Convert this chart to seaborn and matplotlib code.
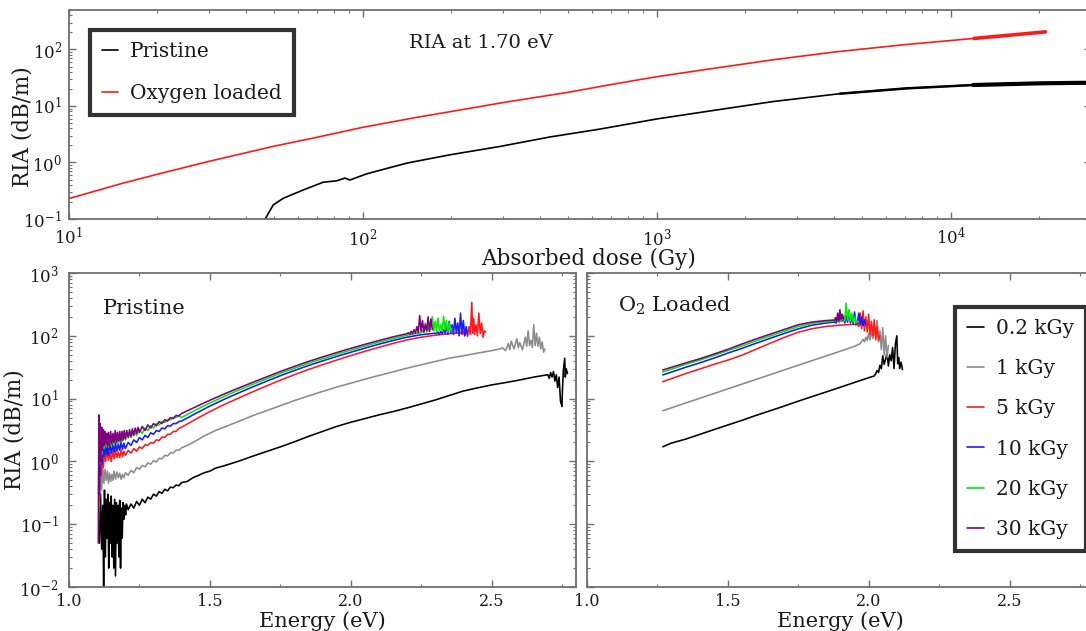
import matplotlib
matplotlib.use("Agg")
import numpy as np
import pandas as pd
import matplotlib.pyplot as plt
from matplotlib.lines import Line2D
from matplotlib.ticker import LogLocator, MultipleLocator, FormatStrFormatter, NullFormatter
import seaborn as sns

# ---------------------------------------------------------------- top panel
# RIA at 1.70 eV versus absorbed dose
dose_pristine = [45, 46.5, 49.5, 53.6, 62.7, 73.3, 81.3, 86.9, 90.3, 103, 141, 198,
                 292, 433, 640, 1000, 1476, 2489, 4190, 7060, 11900, 20100, 29500]
ria_pristine = [0.085, 0.1, 0.177, 0.233, 0.327, 0.448, 0.473, 0.53, 0.49, 0.63, 0.975, 1.37,
                1.92, 2.83, 3.9, 5.9, 8.0, 12.0, 16.5, 20.5, 23.5, 25.2, 25.8]
dose_oxygen = [10, 15, 20, 30, 50, 70, 100, 150, 200, 300, 500, 700, 1000, 1500,
               2500, 4000, 7000, 12000, 16000, 21000]
ria_oxygen = [0.23, 0.42, 0.62, 1.05, 1.95, 2.8, 4.2, 6.2, 8.0, 11.5, 17.5, 24, 33, 45,
              66, 90, 122, 157, 180, 205]

# ---------------------------------------------------------- spectra: pristine
dose_labels = ["0.2 kGy", "1 kGy", "5 kGy", "10 kGy", "20 kGy", "30 kGy"]
dose_colors = ["black", "#8c8c8c", "#ff1a1a", "#1a1aff", "#00ee00", "#800080"]

pr_e_02 = [1.108, 1.112, 1.116, 1.120, 1.123, 1.126, 1.129, 1.132, 1.135, 1.138, 1.141, 1.144,
           1.147, 1.150, 1.153, 1.156, 1.159, 1.162, 1.165, 1.168, 1.171, 1.174, 1.177, 1.180,
           1.183, 1.186, 1.189, 1.192, 1.195, 1.198, 1.201, 1.204,
           1.21, 1.22, 1.23, 1.24, 1.25, 1.26, 1.27, 1.28, 1.29, 1.30, 1.31, 1.32, 1.33, 1.34,
           1.35, 1.36, 1.37, 1.38, 1.39, 1.40, 1.42, 1.44, 1.46, 1.48, 1.50, 1.52,
           1.55, 1.60, 1.65, 1.70, 1.75, 1.80, 1.85, 1.90, 1.95, 2.00, 2.05, 2.10, 2.15, 2.20,
           2.25, 2.30, 2.35, 2.40, 2.45, 2.50, 2.55, 2.60, 2.65, 2.70,
           2.705, 2.71, 2.715, 2.72, 2.725, 2.73, 2.735, 2.74, 2.745, 2.75, 2.752, 2.755,
           2.76, 2.762, 2.765, 2.77]
pr_v_02 = [0.05, 0.3, 0.04, 0.2, 0.01, 0.35, 0.03, 0.25, 0.06, 0.3, 0.02, 0.22,
           0.05, 0.28, 0.03, 0.2, 0.02, 0.25, 0.015, 0.22, 0.05, 0.2, 0.03, 0.24,
           0.02, 0.18, 0.06, 0.22, 0.12, 0.2, 0.14, 0.21,
           0.17, 0.21, 0.18, 0.23, 0.2, 0.25, 0.22, 0.27, 0.25, 0.3, 0.28, 0.33, 0.31, 0.36,
           0.34, 0.39, 0.38, 0.42, 0.41, 0.46, 0.48, 0.55, 0.6, 0.66, 0.7, 0.78,
           0.85, 1.0, 1.2, 1.43, 1.7, 2.05, 2.5, 3.0, 3.6, 4.2, 4.8, 5.5, 6.2, 7.1,
           8.2, 9.5, 11.2, 13.2, 14.8, 16.5, 18, 19.8, 22, 24,
           21, 26, 22, 27, 19, 24, 15, 22, 9, 7.5, 14, 28,
           44, 22, 30, 25]

pr_e_1 = [1.108, 1.112, 1.116, 1.12, 1.124, 1.128, 1.132, 1.136, 1.14, 1.144, 1.148, 1.152,
          1.156, 1.16, 1.165, 1.17, 1.175, 1.18, 1.185, 1.19, 1.195, 1.2,
          1.21, 1.22, 1.23, 1.24, 1.25, 1.26, 1.27, 1.28, 1.29, 1.30, 1.31, 1.32, 1.33, 1.34,
          1.35, 1.36, 1.37, 1.38, 1.39, 1.40, 1.42, 1.44, 1.46, 1.48, 1.50, 1.52,
          1.55, 1.60, 1.65, 1.70, 1.75, 1.80, 1.85, 1.90, 1.95, 2.00, 2.05, 2.10, 2.15, 2.20,
          2.25, 2.30, 2.35, 2.40, 2.45, 2.50, 2.53,
          2.54, 2.55, 2.56, 2.565, 2.57, 2.58, 2.59, 2.595, 2.60, 2.61, 2.62, 2.625, 2.63,
          2.635, 2.64, 2.645, 2.65, 2.655, 2.66, 2.665, 2.67, 2.675, 2.68, 2.685, 2.69]
pr_v_1 = [0.25, 0.7, 0.35, 0.8, 0.45, 0.75, 0.5, 0.7, 0.45, 0.65, 0.48, 0.62,
          0.5, 0.7, 0.52, 0.68, 0.55, 0.65, 0.52, 0.62, 0.55, 0.66,
          0.6, 0.72, 0.66, 0.8, 0.75, 0.86, 0.82, 0.95, 0.9, 1.03, 0.98, 1.12, 1.1, 1.25,
          1.22, 1.38, 1.36, 1.52, 1.5, 1.65, 1.8, 2.0, 2.25, 2.55, 2.8, 3.1,
          3.5, 4.3, 5.3, 6.4, 7.7, 9.3, 11.0, 13.0, 15.2, 17.6, 20.3, 23.3, 26.6, 30.5,
          34.5, 39, 44, 48, 53, 58, 62,
          64, 58, 75, 60, 82, 62, 90, 65, 78, 60, 95, 68, 120,
          70, 85, 65, 150, 70, 110, 68, 95, 62, 80, 55, 62]

pr_e_5 = [1.106, 1.11, 1.114, 1.118, 1.122, 1.126, 1.13, 1.135, 1.14, 1.145, 1.15, 1.155,
          1.16, 1.165, 1.17, 1.175, 1.18, 1.185, 1.19, 1.195, 1.2,
          1.21, 1.22, 1.23, 1.24, 1.25, 1.26, 1.27, 1.28, 1.29, 1.30, 1.31, 1.32, 1.33, 1.34,
          1.35, 1.36, 1.37, 1.38, 1.39,
          1.40, 1.45, 1.50, 1.55, 1.60, 1.65, 1.70, 1.75, 1.80, 1.85, 1.90, 1.95, 2.00, 2.05,
          2.10, 2.15, 2.20, 2.25, 2.30, 2.35, 2.39,
          2.395, 2.40, 2.405, 2.41, 2.415, 2.42, 2.425, 2.43, 2.433, 2.437, 2.44, 2.445,
          2.45, 2.455, 2.46, 2.465, 2.47, 2.475, 2.48]
pr_v_5 = [0.22, 1.2, 0.6, 1.5, 0.8, 1.6, 1.0, 1.5, 1.05, 1.4, 1.0, 1.45,
          1.1, 1.5, 1.15, 1.4, 1.15, 1.5, 1.2, 1.45, 1.25,
          1.5, 1.35, 1.6, 1.45, 1.7, 1.6, 1.85, 1.8, 2.0, 1.95, 2.2, 2.15, 2.45, 2.4,
          2.7, 2.7, 3.0, 3.0, 3.35,
          3.5, 4.7, 6.2, 8.0, 10.1, 12.7, 15.8, 19.6, 24.0, 29.0, 34.6, 41, 48.3, 56.5,
          65.5, 75.5, 86, 95, 102, 108, 112,
          105, 118, 100, 130, 98, 140, 105, 340, 110, 190, 105, 150,
          100, 230, 108, 160, 95, 120, 115]

pr_e_10 = [1.105, 1.108, 1.111, 1.114, 1.117, 1.12, 1.124, 1.128, 1.132, 1.136, 1.14, 1.145,
           1.15, 1.155, 1.16, 1.165, 1.17, 1.175, 1.18, 1.185, 1.19, 1.195, 1.2,
           1.21, 1.22, 1.23, 1.24, 1.25, 1.26, 1.27, 1.28, 1.29, 1.30, 1.31, 1.32, 1.33, 1.34,
           1.35, 1.36, 1.37, 1.38, 1.39,
           1.40, 1.45, 1.50, 1.55, 1.60, 1.65, 1.70, 1.75, 1.80, 1.85, 1.90, 1.95, 2.00, 2.05,
           2.10, 2.15, 2.20, 2.25, 2.30,
           2.305, 2.31, 2.315, 2.32, 2.325, 2.33, 2.335, 2.34, 2.345, 2.35, 2.355, 2.36,
           2.365, 2.37, 2.375, 2.38, 2.385, 2.39, 2.395, 2.40, 2.405, 2.41, 2.415]
pr_v_10 = [0.3, 2.2, 0.6, 1.9, 0.9, 2.0, 1.2, 1.9, 1.3, 1.8, 1.25, 1.9,
           1.35, 1.85, 1.4, 1.95, 1.45, 1.9, 1.5, 2.0, 1.55, 1.95, 1.6,
           2.0, 1.8, 2.2, 2.0, 2.4, 2.2, 2.6, 2.4, 2.85, 2.7, 3.1, 3.0, 3.4, 3.3,
           3.7, 3.65, 4.0, 4.0, 4.3,
           4.4, 5.8, 7.6, 9.7, 12.2, 15.2, 18.8, 23.1, 28.0, 33.6, 39.8, 46.8, 54.6, 63.5,
           73.5, 84, 95, 104, 110,
           108, 115, 106, 118, 108, 125, 110, 140, 105, 170, 110, 150,
           105, 190, 112, 160, 100, 230, 110, 175, 100, 140, 105]

pr_e_20 = [1.105, 1.108, 1.111, 1.114, 1.117, 1.12, 1.124, 1.128, 1.132, 1.136, 1.14, 1.145,
           1.15, 1.155, 1.16, 1.165, 1.17, 1.175, 1.18, 1.185, 1.19, 1.195, 1.2,
           1.21, 1.22, 1.23, 1.24, 1.25, 1.26, 1.27, 1.28, 1.29, 1.30, 1.31, 1.32, 1.33, 1.34,
           1.35, 1.36, 1.37, 1.38, 1.39,
           1.40, 1.45, 1.50, 1.55, 1.60, 1.65, 1.70, 1.75, 1.80, 1.85, 1.90, 1.95, 2.00, 2.05,
           2.10, 2.15, 2.20, 2.25,
           2.255, 2.26, 2.265, 2.27, 2.275, 2.28, 2.29, 2.295, 2.30, 2.305, 2.31, 2.315,
           2.32, 2.325, 2.33, 2.335, 2.34, 2.345, 2.35, 2.355, 2.36]
pr_v_20 = [0.5, 3.0, 0.9, 2.6, 1.3, 2.7, 1.6, 2.6, 1.7, 2.5, 1.7, 2.6,
           1.8, 2.5, 1.9, 2.7, 1.9, 2.6, 2.0, 2.7, 2.1, 2.7, 2.2,
           2.8, 2.4, 3.0, 2.6, 3.2, 2.8, 3.4, 3.1, 3.7, 3.4, 4.0, 3.8, 4.3, 4.2,
           4.6, 4.6, 5.0, 5.0, 5.3,
           5.0, 6.6, 8.5, 10.8, 13.5, 16.7, 20.5, 25.2, 30.4, 36.5, 43, 50.5, 59, 68.5,
           79, 90, 102, 112,
           120, 112, 160, 115, 135, 118, 200, 120, 170, 115, 190, 122,
           150, 118, 205, 125, 175, 115, 160, 120, 130]

pr_e_30 = [1.104, 1.106, 1.108, 1.11, 1.113, 1.116, 1.119, 1.122, 1.125, 1.128, 1.131, 1.134,
           1.137, 1.14, 1.144, 1.148, 1.152, 1.156, 1.16, 1.164, 1.168, 1.172, 1.176, 1.18,
           1.184, 1.188, 1.192, 1.196, 1.2, 1.205, 1.21, 1.215, 1.22, 1.225, 1.23, 1.235,
           1.24, 1.245, 1.25, 1.26, 1.27, 1.28, 1.29, 1.30, 1.31, 1.32, 1.33, 1.34, 1.35,
           1.36, 1.37, 1.38, 1.39,
           1.40, 1.45, 1.50, 1.55, 1.60, 1.65, 1.70, 1.75, 1.80, 1.85, 1.90, 1.95, 2.00, 2.05,
           2.10, 2.15, 2.20,
           2.205, 2.21, 2.215, 2.22, 2.225, 2.23, 2.235, 2.24, 2.245, 2.25, 2.255, 2.26,
           2.265, 2.27, 2.275, 2.28, 2.285, 2.29]
pr_v_30 = [0.05, 5.5, 0.3, 4.0, 1.0, 3.5, 1.5, 3.2, 1.8, 3.0, 1.9, 2.8,
           1.7, 2.9, 1.8, 3.0, 1.9, 2.8, 2.0, 3.1, 2.0, 2.9, 2.1, 3.0,
           2.1, 3.0, 2.2, 3.1, 2.3, 3.1, 2.4, 3.2, 2.5, 3.3, 2.6, 3.4,
           2.8, 3.5, 2.9, 3.6, 3.1, 3.8, 3.4, 4.0, 3.7, 4.3, 4.0, 4.6, 4.4,
           5.0, 4.8, 5.4, 5.3,
           5.8, 7.4, 9.4, 11.8, 14.6, 18.0, 22.0, 27.0, 32.5, 39.0, 46.0, 54.0, 63.0, 73.0,
           84.0, 96.0, 108.0,
           112, 106, 118, 108, 125, 110, 140, 112, 210, 118, 175, 115,
           150, 120, 200, 118, 185, 125]

# --------------------------------------------------------- spectra: O2 loaded
ox_e_02 = [1.269, 1.30, 1.35, 1.40, 1.45, 1.50, 1.55, 1.60, 1.65, 1.70, 1.75, 1.80, 1.85,
           1.90, 1.95, 2.00, 2.02,
           2.025, 2.03, 2.035, 2.04, 2.045, 2.05, 2.055, 2.06, 2.065, 2.07, 2.075, 2.08,
           2.085, 2.09, 2.095, 2.10, 2.103, 2.107, 2.11, 2.115, 2.12]
ox_v_02 = [1.71, 1.96, 2.26, 2.69, 3.2, 3.8, 4.5, 5.4, 6.4, 7.6, 9.1, 10.8, 12.8,
           15.2, 18.1, 21.5, 23,
           25, 28, 26, 34, 30, 48, 35, 42, 55, 33, 50, 40,
           65, 30, 75, 100, 36, 45, 30, 38, 29]

ox_e_1 = [1.269, 1.30, 1.35, 1.40, 1.45, 1.50, 1.55, 1.60, 1.65, 1.70, 1.75, 1.80, 1.85,
          1.90, 1.95, 1.97,
          1.975, 1.98, 1.985, 1.99, 1.995, 2.0, 2.005, 2.01, 2.015, 2.02, 2.025, 2.03,
          2.035, 2.04, 2.045, 2.05, 2.055, 2.06, 2.065, 2.07]
ox_v_1 = [6.4, 7.14, 8.5, 10.1, 12.0, 14.3, 17.0, 20.2, 24.0, 28.6, 34.0, 40.4, 48,
          57, 68, 75,
          82, 88, 80, 95, 84, 110, 86, 120, 90, 150, 85, 175,
          80, 120, 60, 135, 50, 100, 45, 70]

ox_e_5 = [1.269, 1.30, 1.35, 1.40, 1.45, 1.50, 1.55, 1.60, 1.65, 1.70, 1.75, 1.80, 1.85,
          1.90, 1.95,
          1.955, 1.96, 1.965, 1.97, 1.975, 1.98, 1.985, 1.99, 1.995, 2.0, 2.005, 2.01,
          2.015, 2.02, 2.025, 2.03, 2.035, 2.04]
ox_v_5 = [18.6, 20.8, 25, 29.5, 35, 41, 49, 61, 76, 94, 114, 130, 141,
          148, 152,
          150, 160, 140, 230, 130, 250, 120, 200, 115, 220, 105, 170,
          100, 180, 90, 140, 85, 100]

ox_e_10 = [1.269, 1.30, 1.35, 1.40, 1.45, 1.50, 1.55, 1.60, 1.65, 1.70, 1.75, 1.80, 1.85,
           1.88,
           1.885, 1.89, 1.895, 1.90, 1.905, 1.91, 1.915, 1.92, 1.925, 1.93, 1.935, 1.94,
           1.945, 1.95, 1.955, 1.96, 1.965, 1.97, 1.975, 1.98, 1.985, 1.99]
ox_v_10 = [23.8, 26.5, 31.5, 37, 44, 53, 63, 76, 91, 109, 129, 148, 160,
           165,
           160, 190, 165, 230, 170, 200, 160, 210, 165, 250, 160, 190,
           155, 240, 150, 165, 230, 150, 200, 145, 180, 150]

ox_e_20 = [1.269, 1.30, 1.35, 1.40, 1.45, 1.50, 1.55, 1.60, 1.65, 1.70, 1.75, 1.80, 1.85,
           1.90,
           1.905, 1.91, 1.915, 1.92, 1.925, 1.93, 1.935, 1.94, 1.945, 1.95, 1.955, 1.96]
ox_v_20 = [26.5, 29.5, 35, 41, 48.5, 58, 69, 83, 99, 118, 140, 158, 168,
           172,
           178, 210, 175, 330, 180, 260, 170, 230, 165, 200, 160, 170]

ox_e_30 = [1.269, 1.30, 1.35, 1.40, 1.45, 1.50, 1.55, 1.60, 1.65, 1.70, 1.75, 1.80, 1.85,
           1.875,
           1.878, 1.882, 1.886, 1.89, 1.894, 1.898, 1.902, 1.906, 1.91]
ox_v_30 = [28.5, 31.5, 37, 43, 51, 61, 74, 89, 106, 126, 150, 166, 175,
           178,
           172, 195, 168, 230, 175, 260, 180, 220, 185]


def spectra_frame(energies, values):
    parts = []
    for label, e, v in zip(dose_labels, energies, values):
        parts.append(pd.DataFrame({"energy": e, "ria": v, "dose": label}))
    return pd.concat(parts, ignore_index=True)


df_pristine = spectra_frame([pr_e_02, pr_e_1, pr_e_5, pr_e_10, pr_e_20, pr_e_30],
                            [pr_v_02, pr_v_1, pr_v_5, pr_v_10, pr_v_20, pr_v_30])
df_oxygen = spectra_frame([ox_e_02, ox_e_1, ox_e_5, ox_e_10, ox_e_20, ox_e_30],
                          [ox_v_02, ox_v_1, ox_v_5, ox_v_10, ox_v_20, ox_v_30])

# ------------------------------------------------------------------ styling
sns.set_theme(style="ticks")
plt.rcParams["font.family"] = ["DejaVu Serif"]
plt.rcParams["mathtext.fontset"] = "dejavuserif"

SPINE = "#707070"
TEXT = "#1a1a1a"
LABEL_SIZE = 15.5
fig = plt.figure(figsize=(10.86, 6.31), dpi=100)
W, H = 1086.0, 631.0


def frame(left, top, right, bottom):
    return [left / W, 1 - bottom / H, (right - left) / W, (bottom - top) / H]


ax_top = fig.add_axes(frame(69, 10, 1091, 219))
ax_pr = fig.add_axes(frame(69, 273, 576, 587))
ax_ox = fig.add_axes(frame(587, 273, 1094, 587))


def style(ax):
    for s in ax.spines.values():
        s.set_color(SPINE)
        s.set_linewidth(1.3)
    ax.tick_params(which="both", direction="in", top=True, right=True, color=SPINE,
                   labelsize=12, labelcolor=TEXT)
    ax.tick_params(which="major", length=5, width=1.0)
    ax.tick_params(axis="x", which="major", pad=6)
    ax.tick_params(axis="y", which="major", pad=5)
    ax.tick_params(which="minor", length=2.5, width=0.8)


def boxed_legend(ax, handles, labels, anchor, spacing):
    leg = ax.legend(handles, labels, loc="upper left", bbox_to_anchor=anchor,
                    borderaxespad=0, fontsize=14.5, frameon=True, fancybox=False,
                    handlelength=0.8, handletextpad=0.6, labelspacing=spacing,
                    borderpad=0.6, labelcolor=TEXT)
    leg.get_frame().set_edgecolor("black")
    leg.get_frame().set_linewidth(3)
    return leg


# top panel: thin line overall, heavier where the readout gets noisy
dp = np.array(dose_pristine)
rp = np.array(ria_pristine)
do = np.array(dose_oxygen)
ro = np.array(ria_oxygen)
sns.lineplot(x=dp, y=rp, ax=ax_top, color="black", lw=1.2, estimator=None, sort=False)
sns.lineplot(x=dp[dp >= 4000], y=rp[dp >= 4000], ax=ax_top, color="black", lw=1.8,
             estimator=None, sort=False)
sns.lineplot(x=dp[dp >= 11000], y=rp[dp >= 11000], ax=ax_top, color="black", lw=3.0,
             estimator=None, sort=False)
sns.lineplot(x=do, y=ro, ax=ax_top, color="#ff1a1a", lw=1.2, estimator=None, sort=False)
sns.lineplot(x=do[do >= 12000], y=ro[do >= 12000], ax=ax_top, color="#ff1a1a", lw=2.6,
             estimator=None, sort=False)
ax_top.set_xscale("log")
ax_top.set_yscale("log")
ax_top.set_xlim(10, 3e4)
ax_top.set_ylim(0.1, 500)
for axis in (ax_top.xaxis, ax_top.yaxis):
    axis.set_major_locator(LogLocator(base=10, numticks=12))
    axis.set_minor_locator(LogLocator(base=10, subs=np.arange(2, 10) * 1.0, numticks=12))
    axis.set_minor_formatter(NullFormatter())
style(ax_top)
ax_top.set_xlabel("Absorbed dose (Gy)", fontsize=LABEL_SIZE, color=TEXT, va="top")
ax_top.xaxis.set_label_coords(0.508, -0.14)
ax_top.set_ylabel("RIA (dB/m)", fontsize=LABEL_SIZE, color=TEXT)
ax_top.yaxis.set_label_coords(-0.035, 0.44)
ax_top.text(0.403, 0.842, "RIA at 1.70 eV", transform=ax_top.transAxes, fontsize=14,
            color=TEXT, ha="center", va="center")
top_handles = [Line2D([], [], color="black", lw=1.2), Line2D([], [], color="#ff1a1a", lw=1.2)]
boxed_legend(ax_top, top_handles, ["Pristine", "Oxygen loaded"], (0.0205, 0.904), 1.12)

# spectra panels
for ax, df in ((ax_pr, df_pristine), (ax_ox, df_oxygen)):
    sns.lineplot(data=df, x="energy", y="ria", hue="dose", hue_order=dose_labels,
                 palette=dose_colors, ax=ax, lw=1.15, estimator=None, sort=False, legend=False)
    ax.set_yscale("log")
    ax.set_xlim(1.0, 2.8)
    ax.set_ylim(1e-2, 1e3)
    ax.xaxis.set_major_locator(MultipleLocator(0.5))
    ax.xaxis.set_minor_locator(MultipleLocator(0.25))
    ax.xaxis.set_major_formatter(FormatStrFormatter("%.1f"))
    ax.yaxis.set_major_locator(LogLocator(base=10, numticks=12))
    ax.yaxis.set_minor_locator(LogLocator(base=10, subs=np.arange(2, 10) * 1.0, numticks=12))
    ax.yaxis.set_minor_formatter(NullFormatter())
    style(ax)
    ax.tick_params(axis="x", which="major", labelsize=11.5, pad=4)
    ax.tick_params(axis="y", which="major", pad=7.5)
    ax.set_xlabel("Energy (eV)", fontsize=15, color=TEXT, va="top")
    ax.xaxis.set_label_coords(0.5, -0.076)

ax_pr.set_ylabel("RIA (dB/m)", fontsize=LABEL_SIZE, color=TEXT)
ax_pr.yaxis.set_label_coords(-0.085, 0.5)
ax_ox.set_ylabel("")
ax_ox.tick_params(labelleft=False)
ax_pr.text(0.067, 0.8876, "Pristine", transform=ax_pr.transAxes, fontsize=15,
           color=TEXT, ha="left", va="center")
ax_ox.text(0.061, 0.894, "O$_2$ Loaded", transform=ax_ox.transAxes, fontsize=15,
           color=TEXT, ha="left", va="center")

dose_handles = [Line2D([], [], color=c, lw=1.2) for c in dose_colors]
boxed_legend(ax_ox, dose_handles, dose_labels, (0.7266, 0.8917), 1.05)

fig.savefig("out.png", dpi=100)
